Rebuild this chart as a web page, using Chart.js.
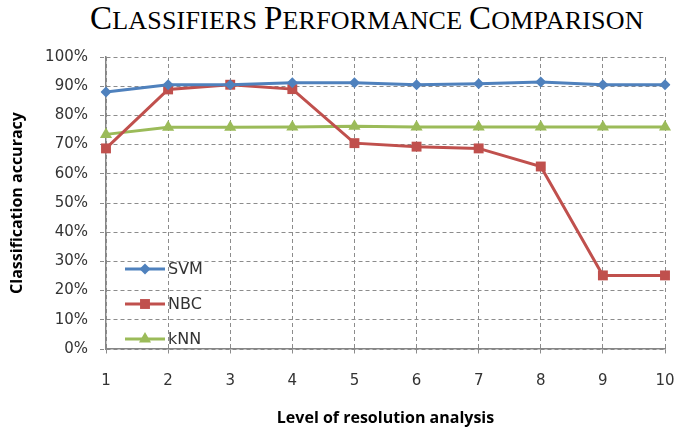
<!DOCTYPE html>
<html>
<head>
    <title>Classifiers Performance Comparison</title>
    <script src="https://cdn.jsdelivr.net/npm/chart.js"></script>
    <style>
        body { margin: 0; background: #fff; }
        .title {
            position: absolute; left: 90px; top: 2px; white-space: nowrap;
            font-family: 'Liberation Serif', serif; font-size: 26px;
            line-height: 32px; color: #000; letter-spacing: 0.2px;
        }
        .title b { font-weight: normal; font-size: 33px; }
        .chart-container { position: absolute; left: 0; top: 45px; width: 676px; height: 384px; }
    </style>
</head>
<body>
    <div class="title"><b>C</b>LASSIFIERS <b>P</b>ERFORMANCE <b>C</b>OMPARISON</div>
    <div class="chart-container">
        <canvas id="accChart"></canvas>
    </div>

    <script>
        // values (percent)
        const levels = ['1', '2', '3', '4', '5', '6', '7', '8', '9', '10'];
        const svm = [88.0, 90.5, 90.5, 91.2, 91.2, 90.5, 90.8, 91.4, 90.5, 90.5];
        const nbc = [68.7, 88.9, 90.5, 89.0, 70.5, 69.3, 68.7, 62.5, 25.2, 25.2];
        const knn = [73.5, 75.9, 75.9, 76.0, 76.3, 76.0, 76.0, 76.0, 76.0, 76.0];

        const gridColor = '#8c8c8c';
        const textColor = '#333333';

        // legend drawn inside the plot, bottom-left, like the original
        const insideLegend = {
            id: 'insideLegend',
            afterDatasetsDraw(chart) {
                const ctx = chart.ctx;
                const area = chart.chartArea;
                const rows = [-80, -45, -10];
                ctx.save();
                chart.data.datasets.forEach((ds, i) => {
                    const y = area.bottom + rows[i];
                    const x0 = area.left + 19, x1 = area.left + 59;
                    ctx.strokeStyle = ds.borderColor;
                    ctx.lineWidth = 3;
                    ctx.beginPath();
                    ctx.moveTo(x0, y);
                    ctx.lineTo(x1, y);
                    ctx.stroke();
                    ctx.fillStyle = ds.pointBackgroundColor;
                    Chart.helpers.drawPoint(ctx, {
                        pointStyle: ds.pointStyle, radius: ds.pointRadius, rotation: 0, borderWidth: 0
                    }, (x0 + x1) / 2, y);
                    ctx.fillStyle = textColor;
                    ctx.font = '16px "DejaVu Sans"';
                    ctx.textAlign = 'left';
                    ctx.textBaseline = 'middle';
                    ctx.fillText(ds.label, x1 + 3, y + 1);
                });
                ctx.restore();
            }
        };

        function makeSet(label, data, color, style, radius) {
            return {
                label: label,
                data: data,
                borderColor: color,
                backgroundColor: color,
                pointBackgroundColor: color,
                pointBorderColor: color,
                pointBorderWidth: 0,
                pointStyle: style,
                pointRadius: radius,
                borderWidth: 3,
                tension: 0,
                fill: false
            };
        }

        const ctx = document.getElementById('accChart').getContext('2d');
        const chart = new Chart(ctx, {
            type: 'line',
            data: {
                labels: levels,
                datasets: [
                    makeSet('SVM', svm, '#4F81BD', 'rectRot', 5.5),
                    makeSet('NBC', nbc, '#C0504D', 'rect', 7),
                    makeSet('kNN', knn, '#9BBB59', 'triangle', 7)
                ]
            },
            options: {
                responsive: true,
                maintainAspectRatio: false,
                animation: false,
                layout: { padding: { top: 12, right: 11, left: 0, bottom: 0 } },
                plugins: {
                    legend: { display: false },
                    tooltip: { enabled: false }
                },
                scales: {
                    x: {
                        offset: false,
                        afterFit(scale) {
                            scale.height = 80;
                            scale.paddingLeft = 0;
                            scale.paddingRight = 0;
                        },
                        grid: {
                            color: gridColor, lineWidth: 1, tickLength: 6,
                            tickBorderDash: [4, 3], tickColor: gridColor
                        },
                        border: { color: '#868686', width: 1.5, dash: [4, 3] },
                        ticks: {
                            color: textColor, padding: 17,
                            font: { family: 'DejaVu Sans', size: 15 },
                            maxRotation: 0
                        },
                        title: {
                            display: true,
                            text: 'Level of resolution analysis',
                            color: '#000',
                            font: { family: 'Open Sans', size: 16, weight: 'bold' },
                            padding: { top: 0, bottom: 1 }
                        }
                    },
                    y: {
                        min: 0,
                        max: 100,
                        afterFit(scale) {
                            scale.width = 106;
                            scale.paddingTop = 0;
                            scale.paddingBottom = 0;
                        },
                        grid: {
                            color: gridColor, lineWidth: 1, tickLength: 6,
                            tickBorderDash: [4, 3], tickColor: gridColor
                        },
                        border: { color: '#868686', width: 1.5, dash: [4, 3] },
                        ticks: {
                            stepSize: 10, color: textColor, padding: 12,
                            font: { family: 'DejaVu Sans', size: 15 },
                            callback: function(v) { return v + '%'; }
                        },
                        title: {
                            display: true,
                            text: 'Classification accuracy',
                            color: '#000',
                            font: { family: 'Open Sans', size: 16, weight: 'bold' },
                            padding: { top: 8, bottom: 0 }
                        }
                    }
                }
            },
            plugins: [insideLegend]
        });
    </script>
</body>
</html>
